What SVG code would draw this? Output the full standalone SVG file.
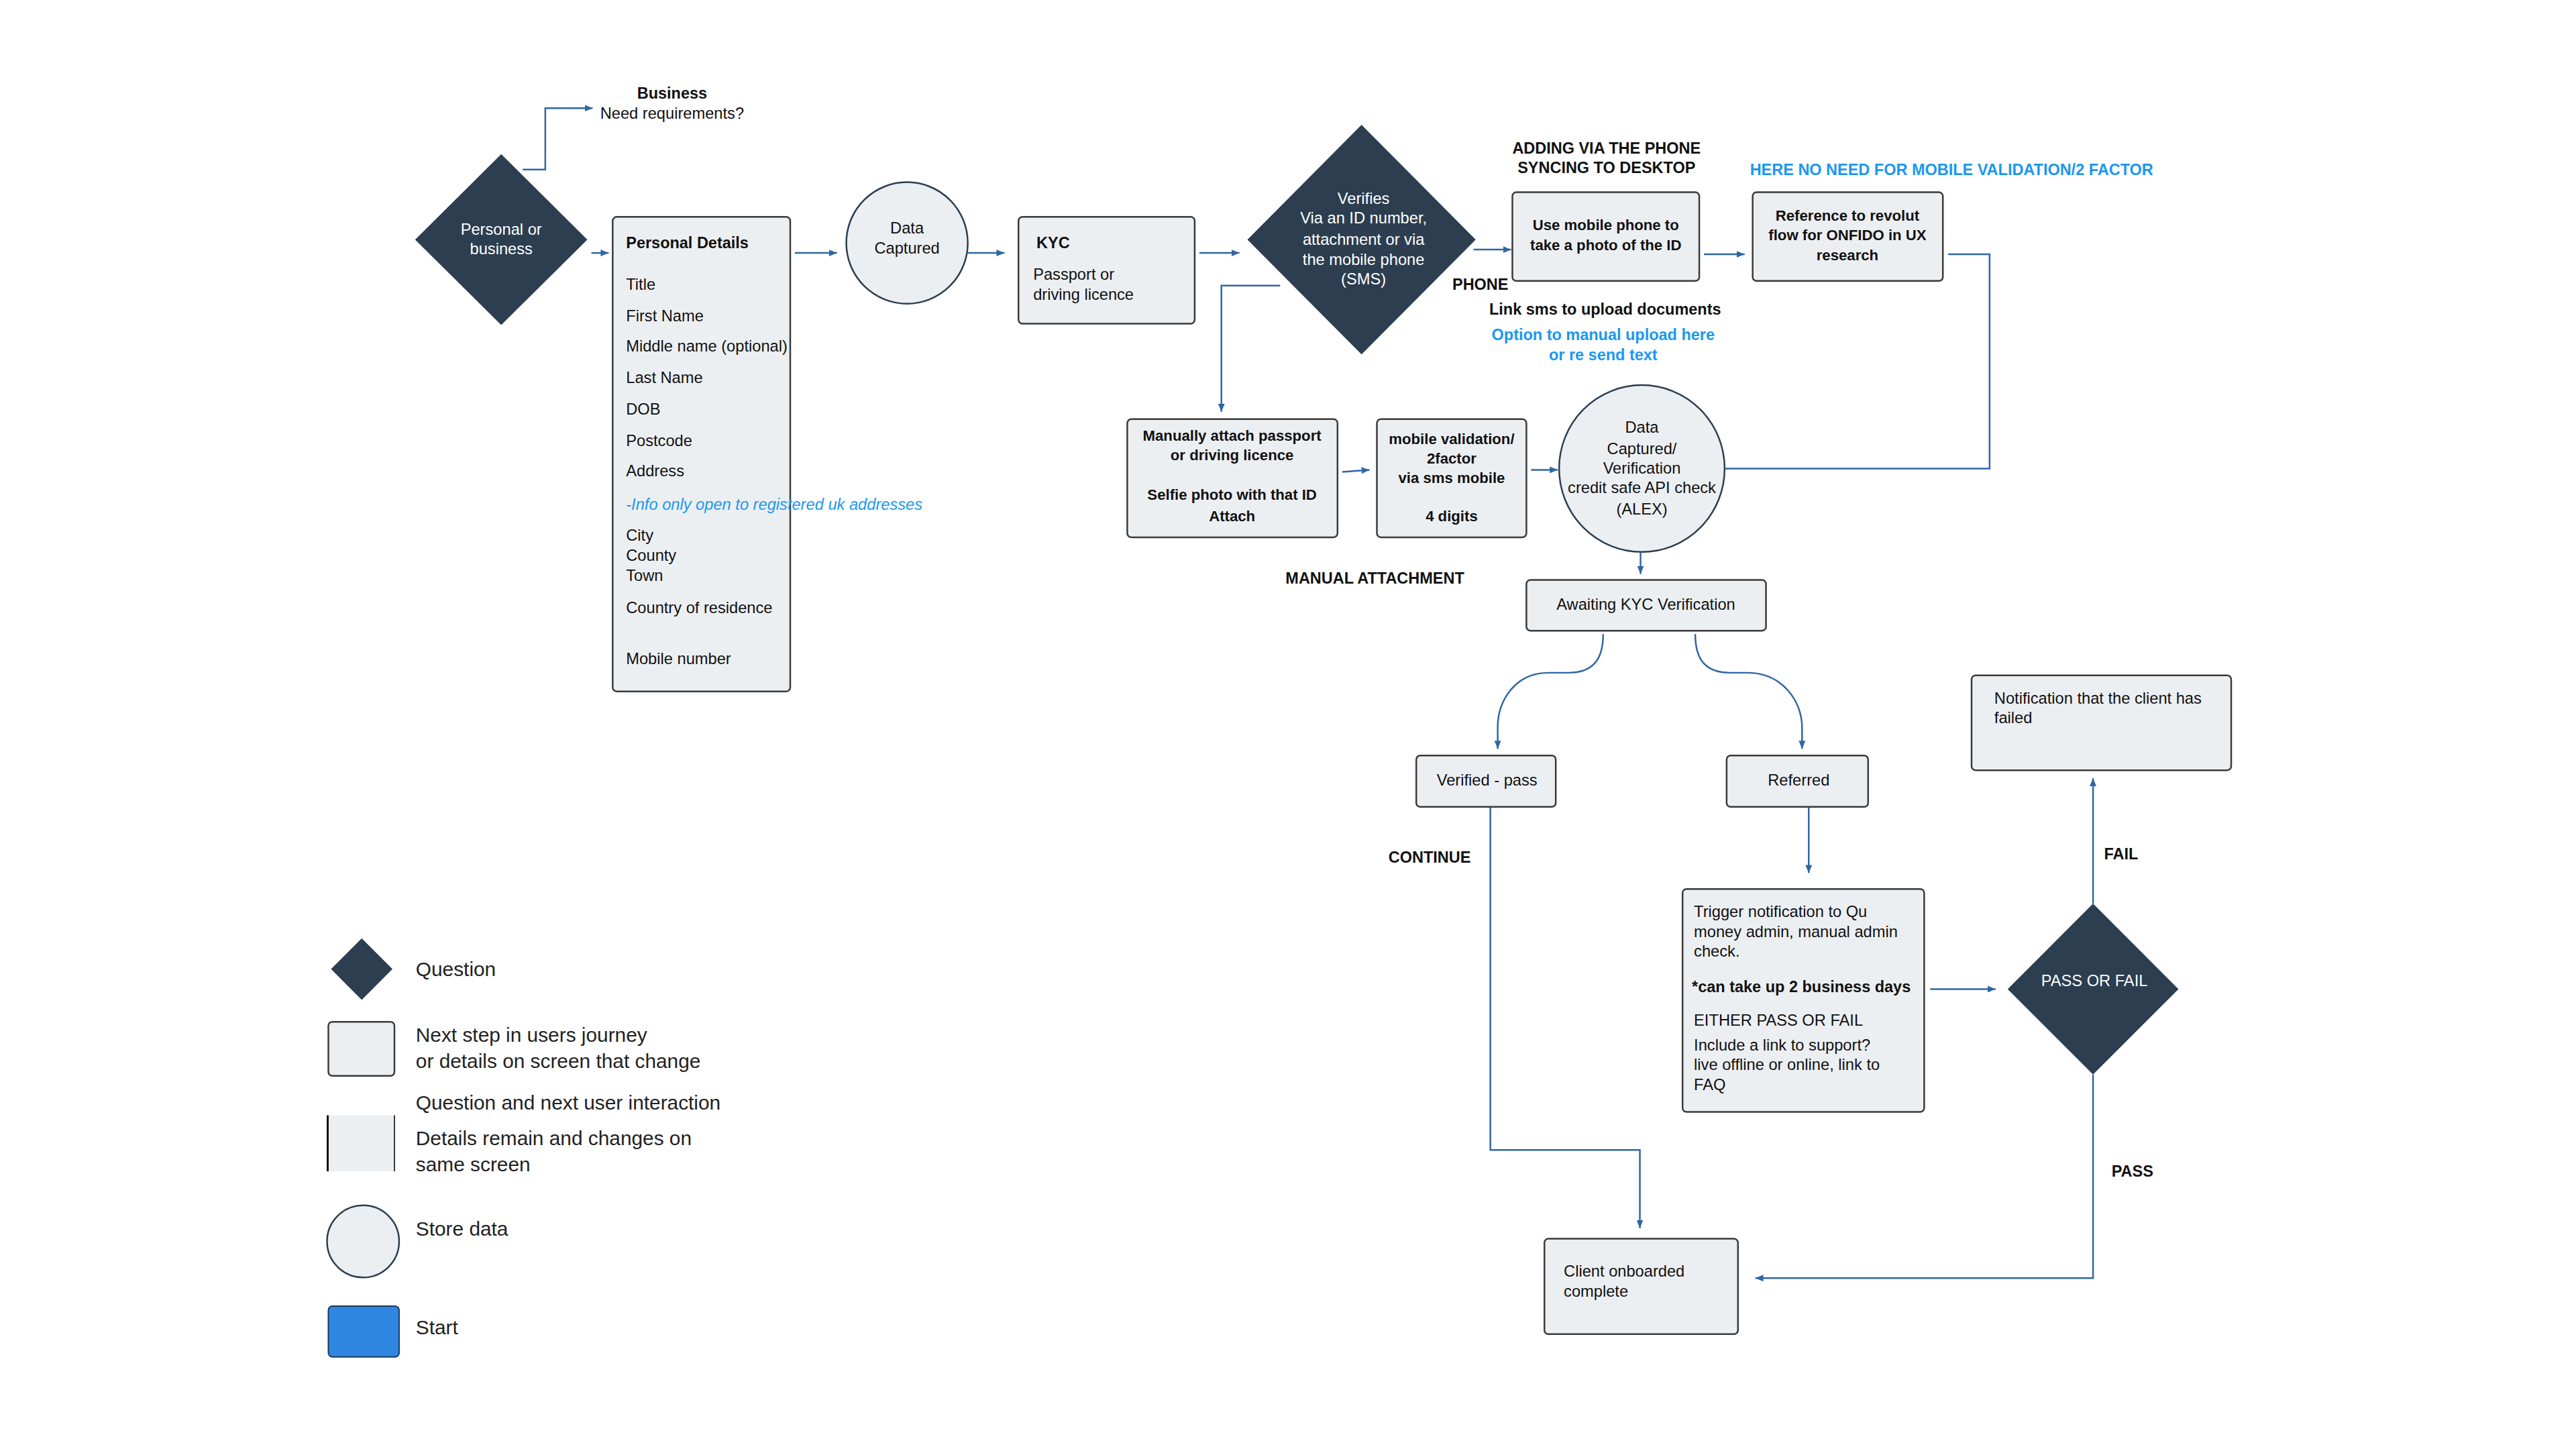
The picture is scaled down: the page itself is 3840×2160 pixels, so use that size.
<svg xmlns="http://www.w3.org/2000/svg" width="3840" height="2160" viewBox="0 0 3840 2160">
<defs>
<marker id="arr" markerUnits="userSpaceOnUse" markerWidth="12" markerHeight="10" refX="12" refY="5" orient="auto">
<path d="M0,0 L12,5 L0,10 z" fill="#2e66a4"/>
</marker>
<style>
text{font-family:"Liberation Sans",Arial,sans-serif;fill:#111;font-size:23.8px}
.b{font-weight:bold;font-size:23.6px}
.s{font-size:22.3px}
.m{text-anchor:middle}
.w{fill:#ffffff}
.blue{fill:#1a98f0}
.lg{font-size:30px;fill:#222}
.box{fill:#eceff2;stroke:#3a3a3a;stroke-width:2.5}
.dia{fill:#2c3e50}
.circ{fill:#eceff2;stroke:#2c3e50;stroke-width:2.5}
.con{fill:none;stroke:#2e66a4;stroke-width:2.5}
.ca{fill:none;stroke:#2e66a4;stroke-width:2.5;marker-end:url(#arr)}
</style>
</defs>
<rect width="3840" height="2160" fill="#ffffff"/>
<g transform="scale(0.99492)">

<g id="connectors">
<path class="ca" d="M783,254 L817,254 L817,162 L888,162"/>
<path class="ca" d="M886,379 L912,379"/>
<path class="ca" d="M1191,379 L1254,379"/>
<path class="ca" d="M1450,379 L1505,379"/>
<path class="ca" d="M1797,379 L1857,379"/>
<path class="ca" d="M1918,428 L1830,428 L1830,617"/>
<path class="ca" d="M2208,374 L2264,374"/>
<path class="ca" d="M2553,381 L2614,381"/>
<path class="con" d="M2919,381 L2981,381 L2981,702 L2585,702"/>
<path class="ca" d="M2011,707 L2052,704"/>
<path class="ca" d="M2294,704 L2334,704"/>
<path class="ca" d="M2458,828 L2458,860"/>
<path class="ca" d="M2402,950 C2402,990 2385,1008 2350,1008 L2320,1008 C2270,1008 2244,1050 2244,1090 L2244,1122"/>
<path class="ca" d="M2540,950 C2540,990 2557,1008 2592,1008 L2618,1008 C2670,1008 2700,1050 2700,1090 L2700,1122"/>
<path class="ca" d="M2233,1209 L2233,1723 L2457,1723 L2457,1840"/>
<path class="ca" d="M2710,1209 L2710,1308"/>
<path class="ca" d="M2892,1482 L2990,1482"/>
<path class="ca" d="M3136,1354 L3136,1166"/>
<path class="ca" d="M3136,1610 L3136,1915 L2630,1915"/>
</g>

<g id="n-personal-or-business">
<polygon class="dia" points="751,231 880,359 751,487 622,359"/>
<text class="w m" x="751" y="352">Personal or</text>
<text class="w m" x="751" y="381">business</text>
</g>

<g id="n-business">
<text class="b m" x="1007" y="148">Business</text>
<text class="m" x="1007" y="178">Need requirements?</text>
</g>

<g id="n-personal-details">
<rect class="box" x="918" y="325" width="266" height="711" rx="6"/>
<text class="b" x="938" y="372">Personal Details</text>
<text x="938" y="434">Title</text>
<text x="938" y="481">First Name</text>
<text x="938" y="527">Middle name (optional)</text>
<text x="938" y="574">Last Name</text>
<text x="938" y="621">DOB</text>
<text x="938" y="668">Postcode</text>
<text x="938" y="714">Address</text>
<text class="blue" x="938" y="764" font-style="italic">-Info only open to registered uk addresses</text>
<text x="938" y="810">City</text>
<text x="938" y="840">County</text>
<text x="938" y="870">Town</text>
<text x="938" y="919">Country of residence</text>
<text x="938" y="995">Mobile number</text>
</g>

<g id="n-data-captured">
<ellipse class="circ" cx="1359" cy="364" rx="91" ry="91"/>
<text class="m" x="1359" y="350">Data</text>
<text class="m" x="1359" y="380">Captured</text>
</g>

<g id="n-kyc">
<rect class="box" x="1526" y="325" width="264" height="160" rx="6"/>
<text class="b" x="1553" y="372">KYC</text>
<text x="1548" y="419">Passport or</text>
<text x="1548" y="449">driving licence</text>
</g>

<g id="n-verifies">
<polygon class="dia" points="2040,187 2211,359 2040,531 1869,359"/>
<text class="w m" x="2043" y="306">Verifies</text>
<text class="w m" x="2043" y="335">Via an ID number,</text>
<text class="w m" x="2043" y="367">attachment or via</text>
<text class="w m" x="2043" y="397">the mobile phone</text>
<text class="w m" x="2043" y="426">(SMS)</text>
</g>

<g id="n-adding-label">
<text class="b m" x="2407" y="230">ADDING VIA THE PHONE</text>
<text class="b m" x="2407" y="259">SYNCING TO DESKTOP</text>
</g>

<g id="n-use-mobile">
<rect class="box" x="2266" y="288" width="280" height="133" rx="6"/>
<text class="b s m" x="2406" y="345">Use mobile phone to</text>
<text class="b s m" x="2406" y="375">take a photo of the ID</text>
</g>

<g id="n-here-no-need">
<text class="b blue" x="2622" y="262" font-size="24.6">HERE NO NEED FOR MOBILE VALIDATION/2 FACTOR</text>
</g>

<g id="n-reference">
<rect class="box" x="2626" y="288" width="285" height="133" rx="6"/>
<text class="b s m" x="2768" y="331">Reference to revolut</text>
<text class="b s m" x="2768" y="360">flow for ONFIDO in UX</text>
<text class="b s m" x="2768" y="390">research</text>
</g>

<g id="n-phone-label">
<text class="b m" x="2218" y="434">PHONE</text>
<text class="b m" x="2405" y="471">Link sms to upload documents</text>
<text class="b m blue" x="2402" y="510">Option to manual upload here</text>
<text class="b m blue" x="2402" y="540">or re send text</text>
</g>

<g id="n-manually-attach">
<rect class="box" x="1689" y="628" width="315" height="177" rx="6"/>
<text class="b s m" x="1846" y="660">Manually attach passport</text>
<text class="b s m" x="1846" y="690">or driving licence</text>
<text class="b s m" x="1846" y="749">Selfie photo with that ID</text>
<text class="b s m" x="1846" y="781">Attach</text>
</g>

<g id="n-mobile-validation">
<rect class="box" x="2063" y="628" width="224" height="177" rx="6"/>
<text class="b s m" x="2175" y="665">mobile validation/</text>
<text class="b s m" x="2175" y="695">2factor</text>
<text class="b s m" x="2175" y="724">via sms mobile</text>
<text class="b s m" x="2175" y="781">4 digits</text>
</g>

<g id="n-data-captured-verification">
<ellipse class="circ" cx="2460" cy="702" rx="124" ry="125"/>
<text class="m" x="2460" y="648">Data</text>
<text class="m" x="2460" y="680">Captured/</text>
<text class="m" x="2460" y="710">Verification</text>
<text class="m" x="2460" y="739">credit safe API check</text>
<text class="m" x="2460" y="771">(ALEX)</text>
</g>

<g id="n-manual-attachment-label">
<text class="b m" x="2060" y="874">MANUAL ATTACHMENT</text>
</g>

<g id="n-awaiting">
<rect class="box" x="2287" y="869" width="359" height="76" rx="6"/>
<text class="m" x="2466" y="914">Awaiting KYC Verification</text>
</g>

<g id="n-verified-pass">
<rect class="box" x="2122" y="1132" width="209" height="77" rx="6"/>
<text class="m" x="2228" y="1177">Verified - pass</text>
</g>

<g id="n-referred">
<rect class="box" x="2587" y="1132" width="212" height="77" rx="6"/>
<text class="m" x="2695" y="1177">Referred</text>
</g>

<g id="n-continue-label">
<text class="b m" x="2142" y="1293">CONTINUE</text>
</g>

<g id="n-trigger">
<rect class="box" x="2521" y="1332" width="362" height="334" rx="6"/>
<text x="2538" y="1374">Trigger notification to Qu</text>
<text x="2538" y="1404">money admin, manual admin</text>
<text x="2538" y="1433">check.</text>
<text class="b" x="2535" y="1487" font-size="22.9">*can take up 2 business days</text>
<text x="2538" y="1537">EITHER PASS OR FAIL</text>
<text x="2538" y="1574">Include a link to support?</text>
<text x="2538" y="1603">live offline or online, link to</text>
<text x="2538" y="1633">FAQ</text>
</g>

<g id="n-pass-or-fail">
<polygon class="dia" points="3136,1354 3264,1482 3136,1610 3008,1482"/>
<text class="w m" x="3138" y="1478">PASS OR FAIL</text>
</g>

<g id="n-fail-label">
<text class="b m" x="3178" y="1288">FAIL</text>
</g>

<g id="n-notification">
<rect class="box" x="2954" y="1012" width="389" height="142" rx="6"/>
<text x="2988" y="1054">Notification that the client has</text>
<text x="2988" y="1084">failed</text>
</g>

<g id="n-pass-label">
<text class="b m" x="3195" y="1763">PASS</text>
</g>

<g id="n-client-onboarded">
<rect class="box" x="2314" y="1856" width="290" height="143" rx="6"/>
<text x="2343" y="1913">Client onboarded</text>
<text x="2343" y="1943">complete</text>
</g>

<g id="legend">
<polygon class="dia" points="542,1406 588,1452 542,1498 496,1452"/>
<text class="lg" x="623" y="1462">Question</text>
<rect class="box" x="492" y="1531" width="99" height="81" rx="6"/>
<text class="lg" x="623" y="1561">Next step in users journey</text>
<text class="lg" x="623" y="1600">or details on screen that change</text>
<text class="lg" x="623" y="1662">Question and next user interaction</text>
<rect x="491" y="1671" width="100" height="84" fill="#eceff2"/>
<line x1="491" y1="1671" x2="491" y2="1755" stroke="#111" stroke-width="3"/>
<line x1="591" y1="1671" x2="591" y2="1755" stroke="#3a3a3a" stroke-width="2"/>
<text class="lg" x="623" y="1716">Details remain and changes on</text>
<text class="lg" x="623" y="1755">same screen</text>
<circle class="circ" cx="544" cy="1860" r="54" stroke-width="2"/>
<text class="lg" x="623" y="1851">Store data</text>
<rect x="492" y="1957" width="106" height="76" rx="6" fill="#2f86e0" stroke="#1d3a5a" stroke-width="2"/>
<text class="lg" x="623" y="1999">Start</text>
</g>
</g>
</svg>
